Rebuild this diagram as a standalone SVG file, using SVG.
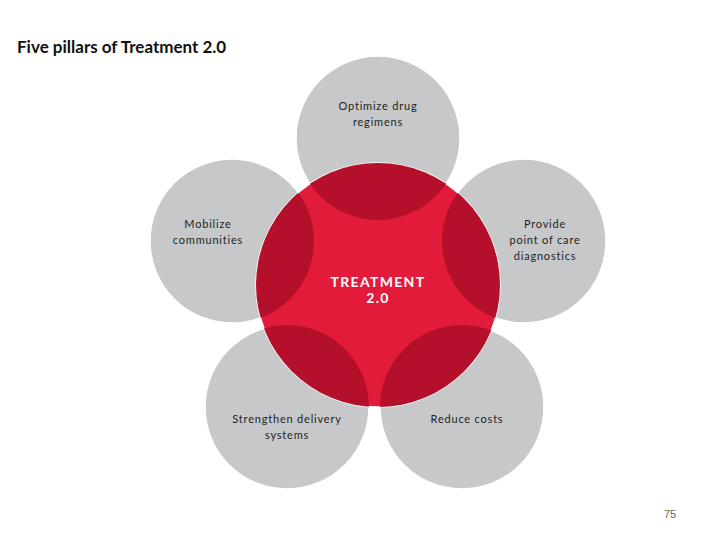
<svg xmlns="http://www.w3.org/2000/svg" width="720" height="540" viewBox="0 0 720 540">
<style>
.gray{fill:#C7C8CA;stroke:#fff;stroke-width:1.5}
.red{fill:#E31B3A;stroke:#fff;stroke-width:1.5}
.dark{fill:#B5102B}
.lbl{font-family:Lato,"Liberation Sans",sans-serif;font-size:11px;fill:#231F20;text-anchor:middle;letter-spacing:0.8px}
.ctr{font-family:Lato,"Liberation Sans",sans-serif;font-size:14px;font-weight:bold;fill:#fff;text-anchor:middle;letter-spacing:1.3px}
</style>
<defs>
<clipPath id="cc"><circle cx="378" cy="285" r="122"/></clipPath>
</defs>
<rect width="720" height="540" fill="#fff"/>
<text x="17" y="53" font-family="Lato,'Liberation Sans',sans-serif" font-size="17" font-weight="bold" fill="#111">Five pillars of Treatment 2.0</text>
<g id="pillar-top"><circle class="gray" cx="378" cy="138" r="82"/><text class="lbl" x="378" y="110">Optimize drug</text><text class="lbl" x="378" y="126">regimens</text></g>
<g id="pillar-left"><circle class="gray" cx="232" cy="241" r="82"/><text class="lbl" x="208" y="228">Mobilize</text><text class="lbl" x="208" y="244">communities</text></g>
<g id="pillar-right"><circle class="gray" cx="524" cy="241" r="82"/><text class="lbl" x="545" y="228">Provide</text><text class="lbl" x="545" y="244">point of care</text><text class="lbl" x="545" y="260">diagnostics</text></g>
<g id="pillar-bl"><circle class="gray" cx="287" cy="407" r="82"/><text class="lbl" x="287" y="423">Strengthen delivery</text><text class="lbl" x="287" y="439">systems</text></g>
<g id="pillar-br"><circle class="gray" cx="462" cy="407" r="82"/><text class="lbl" x="467" y="423">Reduce costs</text></g>
<g id="center">
<circle class="red" cx="378" cy="285" r="122"/>
<g clip-path="url(#cc)">
<circle class="dark" cx="378" cy="138" r="82"/>
<circle class="dark" cx="232" cy="241" r="82"/>
<circle class="dark" cx="524" cy="241" r="82"/>
<circle class="dark" cx="287" cy="407" r="82"/>
<circle class="dark" cx="462" cy="407" r="82"/>
</g>
<text class="ctr" x="378" y="287">TREATMENT</text>
<text class="ctr" x="378" y="303">2.0</text>
</g>
<g id="connectors"/>
<text x="670" y="518" font-family="'Liberation Sans',sans-serif" font-size="11" fill="#666" text-anchor="middle">75</text>
</svg>
